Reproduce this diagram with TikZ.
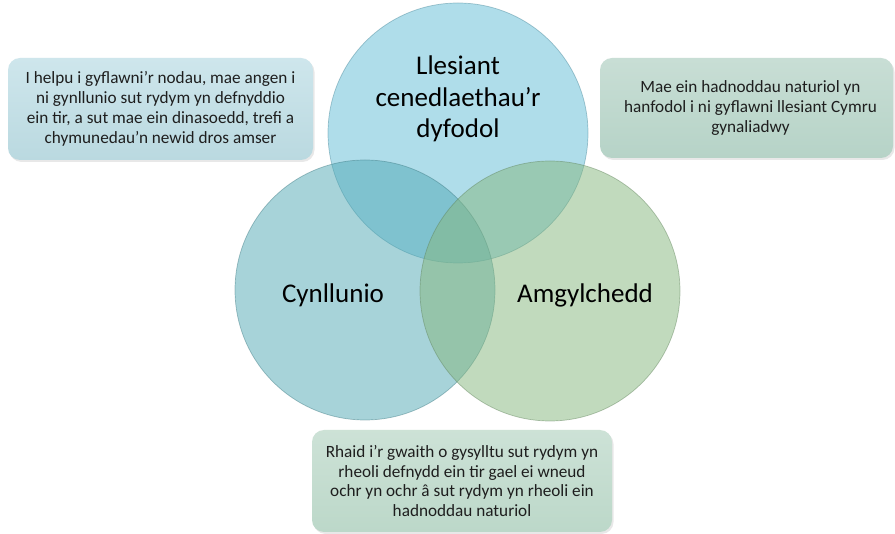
\documentclass[tikz,border=0pt]{standalone}
\usepackage{fontspec}
\setmainfont{Carlito}
\usetikzlibrary{shadows}
\definecolor{ctop}{RGB}{97,189,215}
\definecolor{cleft}{RGB}{81,169,181}
\definecolor{cright}{RGB}{133,183,125}
\definecolor{boxA}{RGB}{206,230,236}
\definecolor{boxAb}{RGB}{186,217,224}
\definecolor{boxB}{RGB}{182,211,199}
\definecolor{boxC}{RGB}{188,216,201}
\definecolor{txt}{RGB}{30,30,30}
\tikzset{
  venn/.style={circle, minimum size=260pt, inner sep=0pt, fill opacity=0.5, draw opacity=0.45, line width=0.7pt},
  infobox/.style={rounded corners=12pt, inner sep=0pt, align=center, text=txt, font=\fontsize{17.2}{19.8}\selectfont,
     drop shadow={opacity=0.18, shadow xshift=1.5pt, shadow yshift=-2pt}},
  biglabel/.style={align=center, font=\fontsize{27}{31.8}\selectfont, text=black}
}
\begin{document}
\begin{tikzpicture}[x=1pt,y=-1pt]
\useasboundingbox (0,0) rectangle (895,534);
\fill[white] (0,0) rectangle (895,534);
% circles
\node[venn, fill=ctop, draw=ctop!70!black] (ctop) at (458,133) {};
\node[venn, fill=cleft, draw=cleft!70!black] (cleft) at (365,290) {};
\node[venn, fill=cright, draw=cright!70!black] (cright) at (550,291) {};
% labels
\node[biglabel] (ltop) at (458,99) {Llesiant\\cenedlaethau’r\\dyfodol};
\node[biglabel] (lleft) at (333,295) {Cynllunio};
\node[biglabel] (lright) at (585,295) {Amgylchedd};
% boxes
\node[infobox, top color=boxA, bottom color=boxAb, minimum width=305pt, minimum height=102pt] (b1) at (160.5,109)
  {I helpu i gyflawni’r nodau, mae angen i\\ni gynllunio sut rydym yn defnyddio\\ein tir, a sut mae ein dinasoedd, trefi a\\chymunedau’n newid dros amser};
\node[infobox, top color=boxB!75!white, bottom color=boxB, minimum width=293pt, minimum height=100pt] (b2) at (746.5,108)
  {\hspace*{8pt}Mae ein hadnoddau naturiol yn\\\hspace*{8pt}hanfodol i ni gyflawni llesiant Cymru\\\hspace*{8pt}gynaliadwy};
\node[infobox, top color=boxC!75!white, bottom color=boxC, minimum width=300pt, minimum height=102pt] (b3) at (462,481)
  {Rhaid i’r gwaith o gysylltu sut rydym yn\\rheoli defnydd ein tir gael ei wneud\\ochr yn ochr â sut rydym yn rheoli ein\\hadnoddau naturiol};
\end{tikzpicture}
\end{document}
